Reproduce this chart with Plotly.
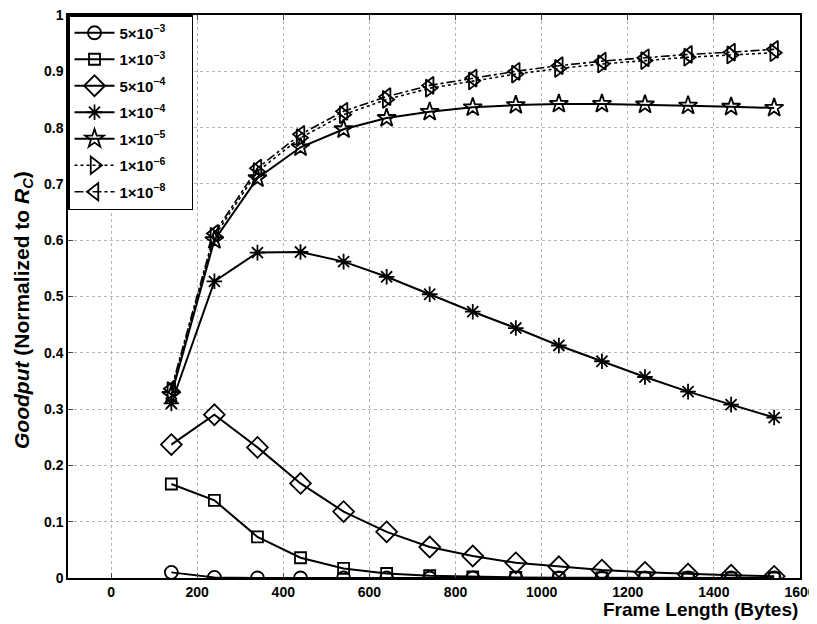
import plotly.graph_objects as go

frame_len = [140, 240, 340, 440, 540, 640, 740, 840, 940, 1040, 1140, 1240, 1340, 1440, 1540]

ber_labels = ["5×10<sup>−3</sup>", "1×10<sup>−3</sup>", "5×10<sup>−4</sup>", "1×10<sup>−4</sup>",
              "1×10<sup>−5</sup>", "1×10<sup>−6</sup>", "1×10<sup>−8</sup>"]

g_5e3 = [0.010, 0.001, 0.0, 0.0, 0.0, 0.0, 0.0, 0.0, 0.0, 0.0, 0.0, 0.0, 0.0, 0.0, 0.0]
g_1e3 = [0.167, 0.138, 0.073, 0.036, 0.017, 0.008, 0.004, 0.002, 0.001, 0.0005, 0.0003, 0.0001, 0.0, 0.0, 0.0]
g_5e4 = [0.237, 0.290, 0.232, 0.168, 0.118, 0.082, 0.055, 0.039, 0.027, 0.020, 0.014, 0.010, 0.007, 0.005, 0.003]
g_1e4 = [0.310, 0.527, 0.578, 0.579, 0.562, 0.535, 0.504, 0.473, 0.444, 0.413, 0.385, 0.357, 0.331, 0.308, 0.285]
g_1e5 = [0.325, 0.600, 0.710, 0.765, 0.797, 0.817, 0.828, 0.836, 0.840, 0.842, 0.842, 0.841, 0.839, 0.837, 0.835]
g_1e6 = [0.333, 0.607, 0.722, 0.782, 0.823, 0.850, 0.870, 0.883, 0.895, 0.905, 0.913, 0.919, 0.925, 0.929, 0.933]
g_1e8 = [0.336, 0.612, 0.728, 0.788, 0.829, 0.855, 0.875, 0.888, 0.900, 0.910, 0.918, 0.924, 0.930, 0.934, 0.939]

x_ticks = [0, 200, 400, 600, 800, 1000, 1200, 1400, 1600]
y_ticks = [0, 0.1, 0.2, 0.3, 0.4, 0.5, 0.6, 0.7, 0.8, 0.9, 1]
y_tick_text = ["0", "0.1", "0.2", "0.3", "0.4", "0.5", "0.6", "0.7", "0.8", "0.9", "1"]

series = [g_5e3, g_1e3, g_5e4, g_1e4, g_1e5, g_1e6, g_1e8]
symbols = ["circle-open", "square-open", "diamond-open", "asterisk-open", "star-open",
           "triangle-right-open", "triangle-left-open"]
dashes = ["solid", "solid", "solid", "solid", "solid", "dot", "dashdot"]
sizes = [13, 11, 16, 13, 14, 15, 15]

pad = "\u00a0" * 5

fig = go.Figure()
for i, (ys, name, sym, dash, sz) in enumerate(zip(series, ber_labels, symbols, dashes, sizes)):
    fig.add_trace(go.Scatter(
        x=frame_len, y=ys, name=name + pad, mode="lines+markers", legendgroup=f"g{i}",
        line=dict(color="black", width=2 if dash == "solid" else 1.6, dash=dash),
        marker=dict(symbol=sym, size=sz, color="black", line=dict(color="black", width=1.8)),
    ))

font_family = "Liberation Sans, Arial, sans-serif"
# page body has an 8px margin, so the figure is drawn 8px right/down of the window corner
fig.update_layout(
    width=817, height=616,
    margin=dict(l=60, r=25, t=7, b=46),
    paper_bgcolor="white", plot_bgcolor="white",
    font=dict(family=font_family, size=14, color="black", weight="bold"),
    showlegend=True,
    legend=dict(x=0, y=1, xanchor="left", yanchor="top",
                bordercolor="black", borderwidth=1.5, bgcolor="white",
                font=dict(size=15, family=font_family, weight="bold"),
                tracegroupgap=4, itemwidth=40),
)
fig.update_xaxes(
    range=[-100, 1600], tickvals=x_ticks, ticks="inside", ticklen=5, automargin=False,
    ticklabeloverflow="allow",
    showline=True, linecolor="black", linewidth=1.5, mirror="ticks",
    showgrid=True, gridcolor="#b5b5b5", griddash="dot", gridwidth=1,
    zeroline=False, tickfont=dict(size=14, weight="bold"),
)
fig.update_yaxes(
    range=[0, 1], tickvals=y_ticks, ticktext=y_tick_text, ticks="inside", ticklen=5, automargin=False,
    ticklabeloverflow="allow",
    showline=True, linecolor="black", linewidth=1.5, mirror="ticks",
    showgrid=True, gridcolor="#b5b5b5", griddash="dot", gridwidth=1,
    zeroline=False, tickfont=dict(size=14, weight="bold"),
)
fig.add_annotation(
    text="Frame Length (Bytes)", xref="paper", yref="paper", x=1.0, y=0,
    xanchor="right", yanchor="top", yshift=-19, showarrow=False,
    font=dict(size=19, family=font_family, weight="bold"),
)
fig.add_annotation(
    text="<i>Goodput</i> (Normalized to <i>R</i><sub><i>C</i></sub>)",
    xref="paper", yref="paper", x=0, y=0.476, xanchor="center", yanchor="middle",
    xshift=-45, textangle=-90, showarrow=False,
    font=dict(size=21, family=font_family, weight="bold"),
)

fig.write_html("out.html")
